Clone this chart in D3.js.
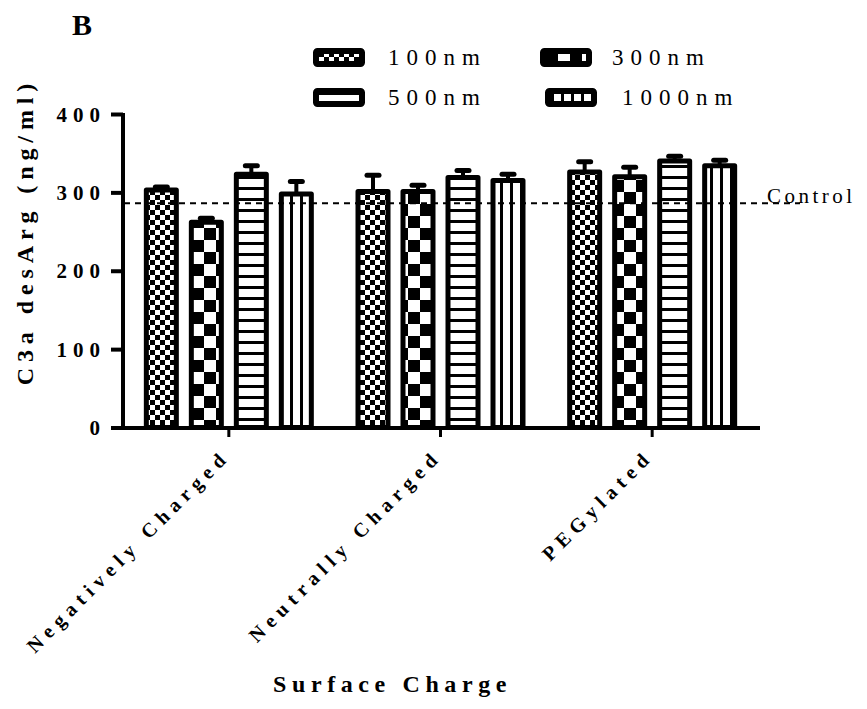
<!DOCTYPE html>
<html><head><meta charset="utf-8">
<script src="https://cdn.jsdelivr.net/npm/d3@7"></script>
<style>body{margin:0;background:#fff}svg{display:block}</style>
</head><body>
<svg id="c" width="867" height="709"></svg>
<script>
// ---- data ----
const categories = ["Negatively Charged", "Neutrally Charged", "PEGylated"];
const sizes = ["100nm", "300nm", "500nm", "1000nm"];
const values100 = [303, 301, 326];
const values300 = [262, 301, 320];
const values500 = [323, 319, 340];
const values1000 = [298, 315, 334];
const err100 = [4, 21, 13];
const err300 = [5, 8, 12];
const err500 = [11, 9, 6];
const err1000 = [16, 8, 7];
const controlValue = 286;
const yTicks = [0, 100, 200, 300, 400];
const patternKinds = ["fine", "coarse", "hstripe", "vstripe"];

const seriesValues = [values100, values300, values500, values1000];
const seriesErrors = [err100, err300, err500, err1000];
const rows = [];
categories.forEach((c, ci) => sizes.forEach((s, si) => rows.push({
  cat: c, size: s, si, value: seriesValues[si][ci], err: seriesErrors[si][ci]
})));

const FONT = "'Liberation Serif','Times New Roman',serif";
const svg = d3.select("#c");
const defs = svg.append("defs");

function addPattern(id, kind, tx, ty) {
  const p = defs.append("pattern").attr("id", id).attr("patternUnits", "userSpaceOnUse");
  if (tx || ty) p.attr("patternTransform", `translate(${tx},${ty})`);
  if (kind === "fine" || kind === "coarse") {
    const c = kind === "fine" ? 5 : 12;
    p.attr("width", 2 * c).attr("height", 2 * c);
    p.append("rect").attr("width", 2 * c).attr("height", 2 * c).attr("fill", "#fff");
    p.append("rect").attr("width", c).attr("height", c).attr("fill", "#000");
    p.append("rect").attr("x", c).attr("y", c).attr("width", c).attr("height", c).attr("fill", "#000");
  } else if (kind === "hstripe") {
    p.attr("width", 10).attr("height", 11);
    p.append("rect").attr("width", 10).attr("height", 11).attr("fill", "#fff");
    p.append("rect").attr("width", 10).attr("height", 3).attr("fill", "#000");
  } else {
    p.attr("width", 10).attr("height", 10);
    p.append("rect").attr("width", 10).attr("height", 10).attr("fill", "#fff");
    p.append("rect").attr("width", 3).attr("height", 10).attr("fill", "#000");
  }
}
patternKinds.forEach((k, i) => addPattern("pat" + i, k, 0, 0));

// ---- scales ----
const x0 = d3.scaleBand().domain(categories).range([123, 758]);
const x1 = d3.scaleBand().domain(sizes).range([-90, 90]).paddingInner(1 / 3).paddingOuter(1 / 6);
const y = d3.scaleLinear().domain([0, 400]).range([427.5, 114]);

// ---- bars ----
const barG = svg.append("g");
barG.selectAll("rect").data(rows).join("rect")
  .attr("x", d => x0(d.cat) + x0.bandwidth() / 2 + x1(d.size))
  .attr("y", d => y(d.value))
  .attr("width", x1.bandwidth())
  .attr("height", d => y(0) - y(d.value))
  .attr("fill", d => `url(#pat${d.si})`)
  .attr("stroke", "#000").attr("stroke-width", 5).attr("stroke-linejoin", "round");

// error bars (upper only)
const errG = svg.append("g").attr("stroke", "#000");
const cx = d => x0(d.cat) + x0.bandwidth() / 2 + x1(d.size) + x1.bandwidth() / 2;
errG.selectAll("line.v").data(rows).join("line").attr("class", "v")
  .attr("x1", cx).attr("x2", cx)
  .attr("y1", d => y(d.value)).attr("y2", d => y(d.value + d.err))
  .attr("stroke-width", 4);
errG.selectAll("line.h").data(rows).join("line").attr("class", "h")
  .attr("x1", d => cx(d) - 6).attr("x2", d => cx(d) + 6)
  .attr("y1", d => y(d.value + d.err)).attr("y2", d => y(d.value + d.err))
  .attr("stroke-width", 5).attr("stroke-linecap", "round");

// ---- control line ----
svg.append("line")
  .attr("x1", 124).attr("x2", 800)
  .attr("y1", y(controlValue)).attr("y2", y(controlValue))
  .attr("stroke", "#000").attr("stroke-width", 2).attr("stroke-dasharray", "6,5");
svg.append("text").text("Control")
  .attr("x", 767).attr("y", y(controlValue))
  .attr("font-family", FONT).attr("font-size", 21).attr("letter-spacing", 3.5);

// ---- axes ----
const yAxis = svg.append("g").attr("transform", "translate(123,0)")
  .call(d3.axisLeft(y).tickValues(yTicks).tickSize(12).tickSizeOuter(0).tickFormat(d3.format("d")));
yAxis.select(".domain").attr("stroke-width", 4).attr("d", "M0,428V113");
yAxis.selectAll(".tick line").attr("stroke-width", 4);
yAxis.selectAll(".tick text")
  .attr("x", -23).attr("dx", 6).attr("dy", "0.34em")
  .attr("font-family", FONT).attr("font-weight", "bold").attr("font-size", 21)
  .attr("letter-spacing", 6).attr("fill", "#000");

const xAxis = svg.append("g").attr("transform", "translate(0,428)")
  .call(d3.axisBottom(x0).tickSize(9).tickSizeOuter(0));
xAxis.select(".domain").attr("stroke-width", 4).attr("d", "M111,0H760");
xAxis.selectAll(".tick line").attr("stroke-width", 3);
xAxis.selectAll(".tick text")
  .attr("y", null).attr("dy", null).attr("dx", 6)
  .attr("transform", "translate(-2,34) rotate(-45)")
  .attr("text-anchor", "end")
  .attr("font-family", FONT).attr("font-weight", "bold").attr("font-size", 20)
  .attr("letter-spacing", 6).attr("fill", "#000");

// axis titles
svg.append("text").text("Surface Charge")
  .attr("x", 273).attr("y", 692)
  .attr("font-family", FONT).attr("font-weight", "bold").attr("font-size", 24)
  .attr("letter-spacing", 5.6);
svg.append("text").text("C3a desArg (ng/ml)")
  .attr("transform", "translate(33,234.5) rotate(-90)")
  .attr("text-anchor", "middle").attr("dx", 3)
  .attr("font-family", FONT).attr("font-weight", "bold").attr("font-size", 24)
  .attr("letter-spacing", 5.9);
svg.append("text").text("B")
  .attr("x", 72).attr("y", 35)
  .attr("font-family", FONT).attr("font-weight", "bold").attr("font-size", 30);

// ---- legend ----
const legendPos = [[313, 48, 388], [540, 48, 612], [313, 88, 388], [545, 88, 622]];
sizes.forEach((s, i) => {
  const [lx, ly] = legendPos[i];
  addPattern("leg" + i, patternKinds[i], lx + 6, ly + 4);
});
const leg = svg.append("g");
leg.selectAll("rect").data(sizes).join("rect")
  .attr("x", (d, i) => legendPos[i][0] + 3).attr("y", (d, i) => legendPos[i][1] + 3)
  .attr("width", 46).attr("height", 13).attr("rx", 1.5)
  .attr("fill", (d, i) => `url(#leg${i})`)
  .attr("stroke", "#000").attr("stroke-width", 6).attr("stroke-linejoin", "round");
leg.selectAll("text").data(sizes).join("text").text(d => d)
  .attr("x", (d, i) => legendPos[i][2]).attr("y", (d, i) => legendPos[i][1] + 17)
  .attr("font-family", FONT).attr("font-size", 23).attr("letter-spacing", 7);
</script>
</body></html>
